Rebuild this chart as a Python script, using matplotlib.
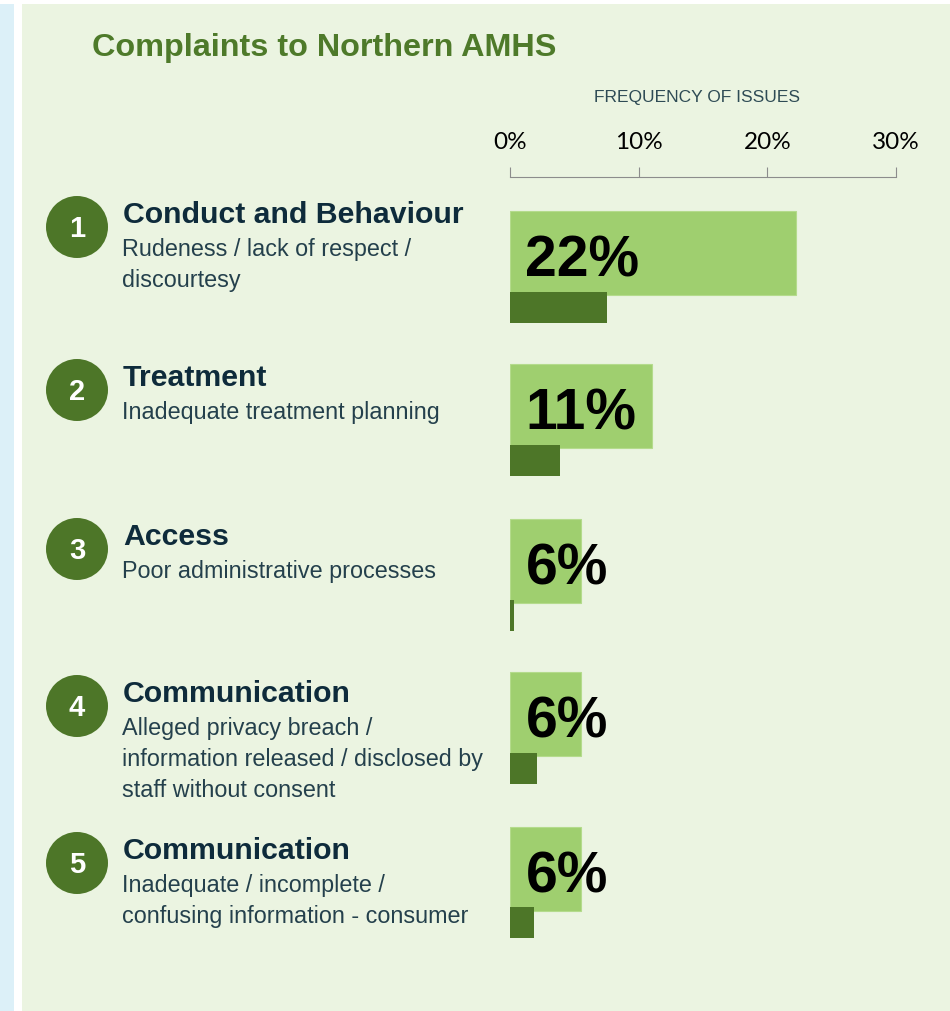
import matplotlib
matplotlib.use("Agg")
import matplotlib.pyplot as plt
from matplotlib.patches import Rectangle, Circle

# values
categories = ["Conduct and Behaviour", "Treatment", "Access",
              "Communication", "Communication"]
descriptions = [["Rudeness / lack of respect /", "discourtesy"],
                ["Inadequate treatment planning"],
                ["Poor administrative processes"],
                ["Alleged privacy breach /", "information released / disclosed by",
                 "staff without consent"],
                ["Inadequate / incomplete /", "confusing information - consumer"]]
northern = [22.2, 11.0, 5.5, 5.5, 5.5]
comparison = [7.5, 3.9, 0.3, 2.1, 1.9]
pct_labels = ["22%", "11%", "6%", "6%", "6%"]
ticks = [0, 10, 20, 30]
tick_labels = ["0%", "10%", "20%", "30%"]

# layout in pixels (figure is 950 x 1012)
W, H = 950, 1012
bar_top = [212, 365, 520, 673, 828]
title_base = [223, 386, 545, 702, 859]

BG = "#EBF4E1"
LIGHT = "#9FCF6F"
DARK = "#4D7628"
NAVY = "#0E2B3B"
TEAL = "#24404C"

fig = plt.figure(figsize=(W / 100, H / 100), dpi=100)
fig.patch.set_facecolor("white")

bg = fig.add_axes([0, 0, 1, 1])
bg.set_xlim(0, W)
bg.set_ylim(H, 0)
bg.axis("off")
bg.add_patch(Rectangle((0, 5), 14, H, color="#DCF0F8", lw=0))
bg.add_patch(Rectangle((22, 5), W - 22, H, color=BG, lw=0))

bg.text(92, 56, "Complaints to Northern AMHS", fontsize=23.3, fontweight="bold",
        color="#4E7A2A", family="Liberation Sans", va="baseline")
bg.text(697, 102, "FREQUENCY OF ISSUES", fontsize=12.5, color="#2E4B55",
        family="Liberation Sans", ha="center", va="baseline")

for i, (cat, desc) in enumerate(zip(categories, descriptions)):
    yb = title_base[i]
    bg.add_patch(Circle((77, yb + 5), 31, color=DARK, lw=0))
    bg.text(77, yb + 6, str(i + 1), fontsize=21, fontweight="bold", color="white",
            family="Liberation Sans", ha="center", va="center")
    bg.text(123, yb, cat, fontsize=21.8, fontweight="bold", color=NAVY,
            family="Liberation Sans", va="baseline")
    for j, line in enumerate(desc):
        bg.text(122, yb + 33 + 31 * j, line, fontsize=16.8, color=TEAL,
                family="Liberation Sans", va="baseline")

ax = fig.add_axes([510 / W, 0, (896 - 510) / W, 1 - 178 / H])
ax.patch.set_alpha(0)
ax.set_xlim(0, 30)
ax.set_ylim(H, 178)
for s in ["left", "right", "bottom"]:
    ax.spines[s].set_visible(False)
ax.spines["top"].set_color("#8C8C8C")
ax.xaxis.tick_top()
ax.set_xticks(ticks)
ax.set_xticklabels(tick_labels, family="Lato", fontsize=17.5, color="black")
ax.tick_params(axis="x", direction="out", length=7, pad=11, color="#8C8C8C")
ax.set_yticks([])

light_y = [t + 42 for t in bar_top]
dark_y = [t + 96 for t in bar_top]
ax.barh(light_y, northern, height=84, color=LIGHT, edgecolor="#B4DB8C", lw=0.8)
ax.barh(dark_y, comparison, height=31, color=DARK, lw=0)
for t, lab in zip(bar_top, pct_labels):
    ax.text(1.2, t + 65, lab, fontsize=41, fontweight="bold", color="black",
            family="Liberation Sans", va="baseline", clip_on=False)

fig.savefig("out.png", dpi=100)
